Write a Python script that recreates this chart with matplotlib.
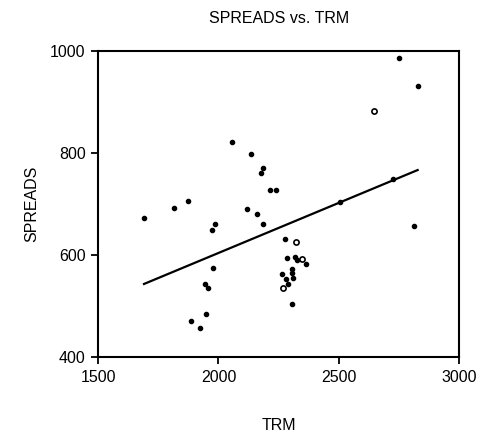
import numpy as np
import matplotlib
matplotlib.use("Agg")
import matplotlib.pyplot as plt

plt.rcParams['font.family'] = ['Liberation Sans', 'DejaVu Sans']

# filled markers
trm = [1691, 1816, 1874, 1974, 1986, 2055, 2135, 2185, 2177, 2214, 2239,
       2119, 2160, 2185, 2505, 2750, 2827, 2726, 2812, 1976, 1944, 1958,
       1947, 1886, 1923, 2276, 2283, 2318, 2326, 2363, 2305, 2305, 2264,
       2280, 2310, 2289, 2305]
spreads = [672, 692, 707, 649, 661, 821, 798, 771, 762, 727, 727,
           690, 680, 662, 704, 986, 931, 749, 657, 574, 544, 535,
           484, 472, 457, 631, 594, 597, 590, 582, 573, 566, 563,
           554, 555, 544, 504]

# open markers
trm_open = [2646, 2322, 2347, 2270]
spreads_open = [882, 626, 592, 536]

xticks = [1500, 2000, 2500, 3000]
yticks = [400, 600, 800, 1000]

all_x = np.array(trm + trm_open, dtype=float)
all_y = np.array(spreads + spreads_open, dtype=float)
slope, intercept = np.polyfit(all_x, all_y, 1)
fit_x = np.sort(all_x)
fit_y = slope * fit_x + intercept

fig = plt.figure(figsize=(4.79, 4.32), dpi=100)
ax = fig.add_axes([0.2046, 0.1729, 0.7543, 0.709])

ax.plot(fit_x, fit_y, color='black', lw=1.6, zorder=2)
ax.scatter(trm, spreads, s=9, marker='o', color='black', zorder=3)
ax.scatter(trm_open, spreads_open, s=14, marker='o', facecolor='white',
           edgecolor='black', linewidths=1.2, zorder=3)

ax.set_xlim(1500, 3000)
ax.set_ylim(400, 1000)
ax.set_xticks(xticks)
ax.set_yticks(yticks)
ax.tick_params(direction='out', length=5, width=1.3, labelsize=11.5,
               top=False, right=False, pad=4)
for sp in ax.spines.values():
    sp.set_linewidth(1.5)

ax.set_title('SPREADS vs. TRM', fontsize=11.5, pad=20)
ax.set_xlabel('TRM', fontsize=11.5, labelpad=24)
ax.set_ylabel('SPREADS', fontsize=11.5, labelpad=8)

fig.savefig('out.png', dpi=100)
